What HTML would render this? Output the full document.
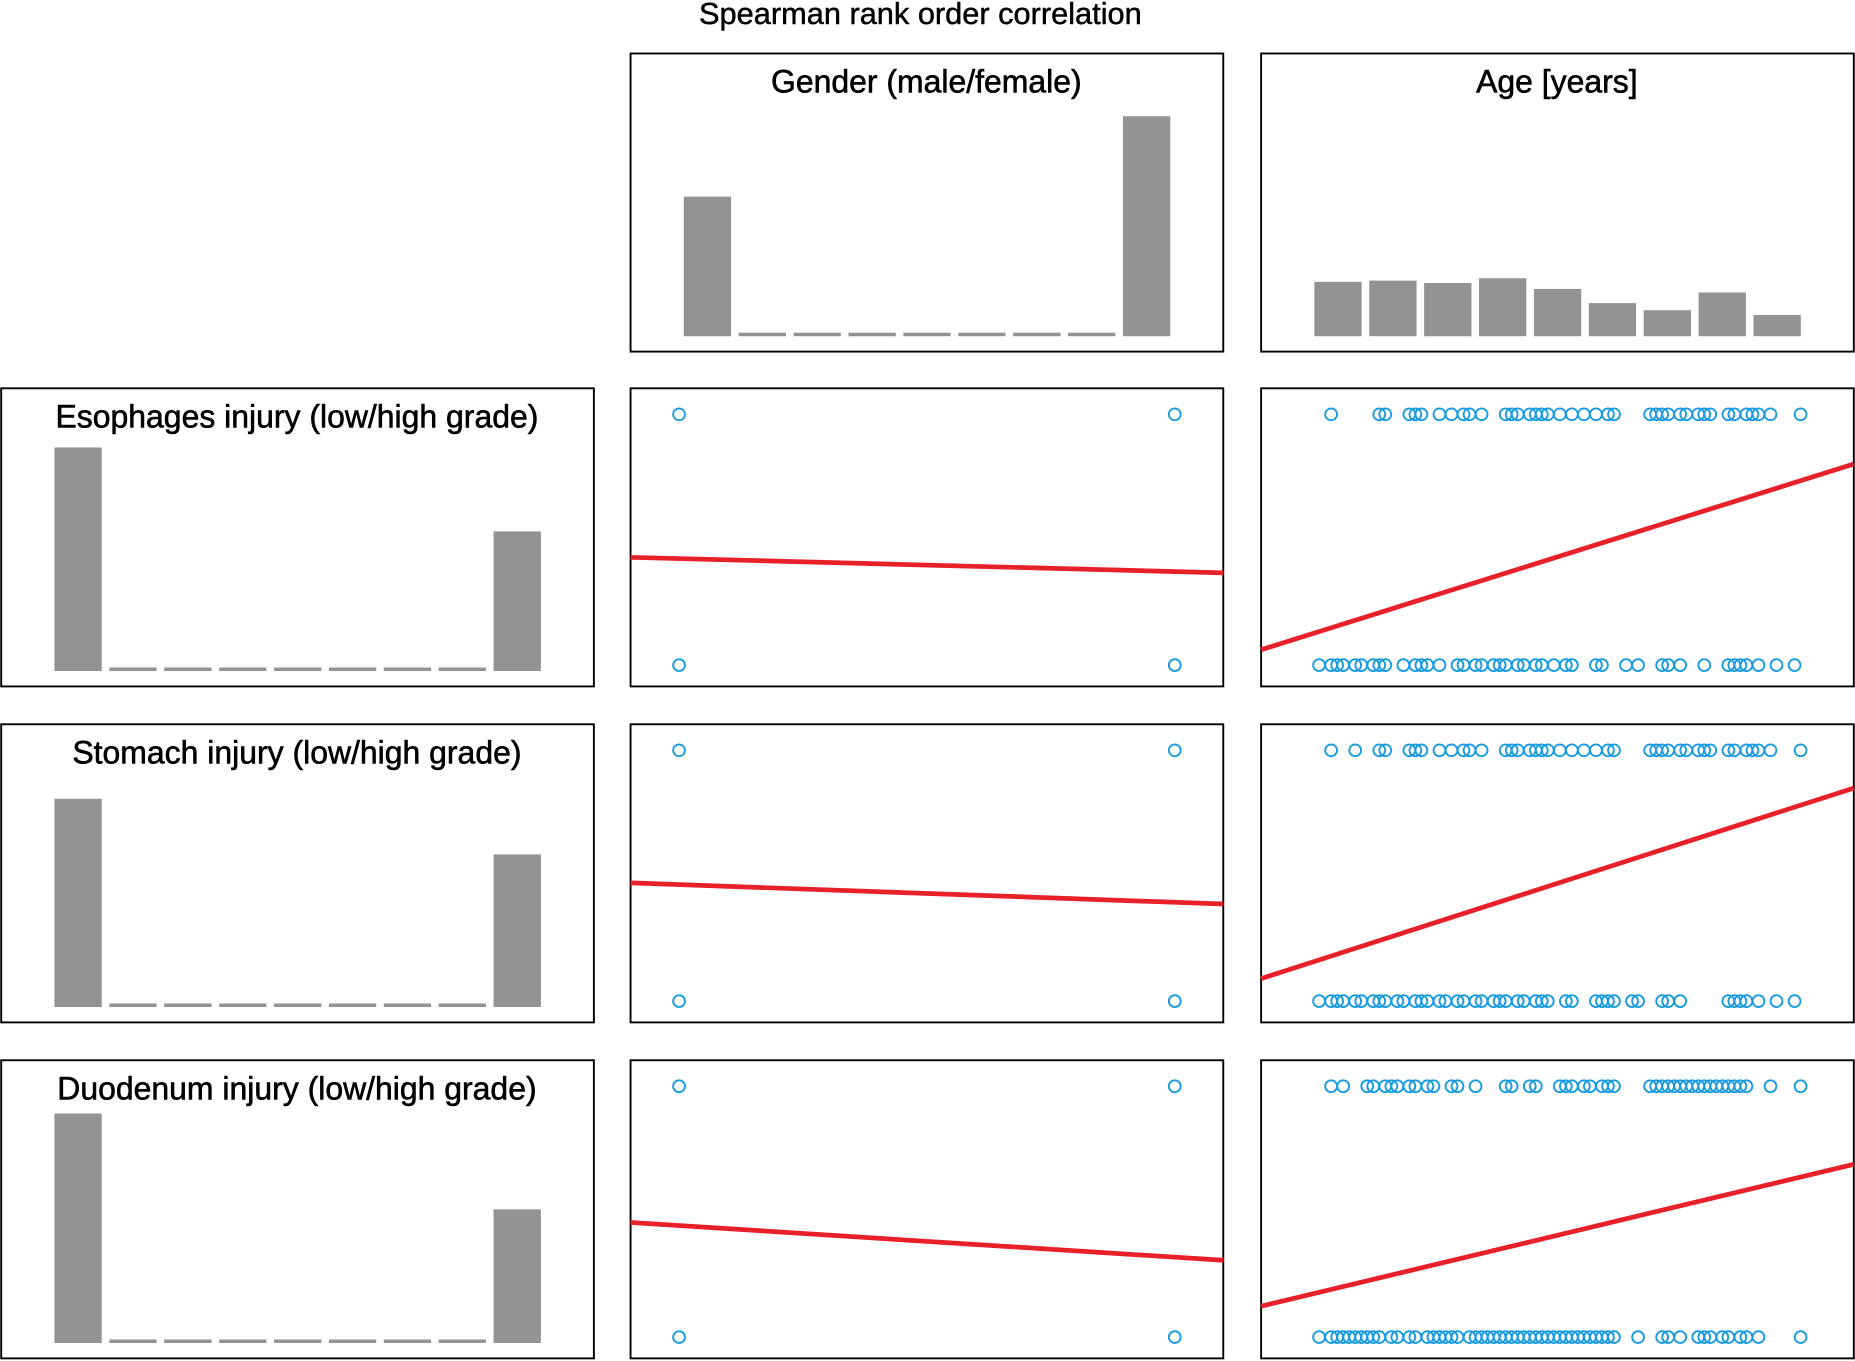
<!DOCTYPE html>
<html><head><meta charset="utf-8"><style>
html,body{margin:0;padding:0;background:#fff;}
svg{display:block;font-family:"Liberation Sans","DejaVu Sans",sans-serif;}
</style></head><body>
<svg id="fig" width="1855" height="1361" viewBox="0 0 1568 1150" xmlns="http://www.w3.org/2000/svg">
<text x="778" y="20" text-anchor="middle" font-size="26" stroke="#000" stroke-width="0.4">Spearman rank order correlation</text>
</svg>
<script>
// Histogram values (bar heights, arbitrary count units)
const genderHist=[118,3,3,3,3,3,3,3,186];
const ageHist=[46,47,45,49,40,28,22,37,18];
const esoHist=[189,3,3,3,3,3,3,3,118];
const stoHist=[176,3,3,3,3,3,3,3,129];
const duoHist=[194,3,3,3,3,3,3,3,113];
// Gender scatter: 0=male 1=female
const genderX=[0,1];
// Regression lines (grade value 0..1 at x start/end)
const genderLineEso=[0.433,0.381];
const genderLineSto=[0.468,0.397];
const genderLineDuo=[0.456,0.329];
const ageLineEso=[0.123,0.746];
const ageLineSto=[0.147,0.786];
const ageLineDuo=[0.175,0.651];
// Age scatter points (years) by grade
const esoHigh=[17,25,26,30,31,32,35,37,39,40,42,46,47,48,50,51,52,53,55,57,59,61,63,64,70,71,72,73,75,76,78,79,80,83,84,86,87,88,90,95];
const esoLow=[15,17,18,19,21,22,24,25,26,29,31,32,33,35,38,39,41,42,44,45,46,48,49,51,52,54,56,57,61,62,66,68,72,73,75,79,83,84,85,86,88,91,94];
const stoHigh=[17,21,25,26,30,31,32,35,37,39,40,42,46,47,48,50,51,52,53,55,57,59,61,63,64,70,71,72,73,75,76,78,79,80,83,84,86,87,88,90,95];
const stoLow=[15,17,18,19,21,22,24,25,26,28,29,31,32,33,35,36,38,39,41,42,44,45,46,48,49,51,52,53,56,57,61,62,63,64,67,68,72,73,75,83,84,85,86,88,91,94];
const duoHigh=[17,19,23,24,26,27,28,30,31,33,34,37,38,41,46,47,50,51,55,56,57,59,60,62,63,64,70,71,72,73,74,75,76,77,78,79,80,81,82,83,84,85,86,90,95];
const duoLow=[15,17,18,19,20,21,22,23,24,25,27,28,30,31,33,34,35,36,37,38,40,41,42,43,44,45,46,47,48,49,50,51,52,53,54,55,56,57,58,59,60,61,62,63,64,68,72,73,75,78,79,80,82,83,85,86,88,95];

const svg=document.getElementById('fig');
const NS='http://www.w3.org/2000/svg';
function mk(tag,attrs){const e=document.createElementNS(NS,tag);for(const k in attrs)e.setAttribute(k,attrs[k]);svg.appendChild(e);return e;}

function panel(x,y,name){
  const r=mk('rect',{x:x,y:y,width:501,height:252,fill:'none',stroke:'#000','stroke-width':1.6});
  
  
}
function hist(px,py,vals,title,name){
  panel(px,py,name+'-panel');
  const t=mk('text',{x:px+250,y:py+33,'text-anchor':'middle','font-size':27,stroke:'#000','stroke-width':0.5});
  t.textContent=title;
  
  
  const x0=px+45, base=py+239, step=46.4, w=40;
  vals.forEach((v,i)=>{
    const b=mk('rect',{x:x0+i*step,y:base-v,width:w,height:v,fill:'#939393'});
    
    
  });
}
function yGrade(py,g){return py+234-g*212;}
function circ(cx,cy,name){
  const c=mk('circle',{cx:cx,cy:cy,r:5,fill:'none',stroke:'#1a9be0','stroke-width':1.6});
  
  
}
function line(x1,y1,x2,y2,name){
  const l=mk('line',{x1:x1,y1:y1,x2:x2,y2:y2,stroke:'#e8202a','stroke-width':4});
  
  
}
function genderScatter(py,lineVals,name){
  const px=533;
  panel(px,py,name+'-panel');
  const gx=v=>574+v*419;
  genderX.forEach(v=>{circ(gx(v),yGrade(py,1),name+'-point-high');circ(gx(v),yGrade(py,0),name+'-point-low');});
  const ly=v=>py+252-v*252;
  line(px,ly(lineVals[0]),px+501,ly(lineVals[1]),name+'-regression-line');
}
function ageScatter(py,high,low,lineVals,name){
  const px=1066;
  panel(px,py,name+'-panel');
  const ax=a=>1115+(a-15)*5.0875;
  high.forEach(a=>circ(ax(a),yGrade(py,1),name+'-point-high'));
  low.forEach(a=>circ(ax(a),yGrade(py,0),name+'-point-low'));
  const ly=v=>py+252-v*252;
  line(px,ly(lineVals[0]),px+501,ly(lineVals[1]),name+'-regression-line');
}
hist(533,45,genderHist,'Gender (male/female)','gender-histogram');
hist(1066,45,ageHist,'Age [years]','age-histogram');
hist(1,328,esoHist,'Esophages injury (low/high grade)','esophagus-histogram');
hist(1,612,stoHist,'Stomach injury (low/high grade)','stomach-histogram');
hist(1,896,duoHist,'Duodenum injury (low/high grade)','duodenum-histogram');
genderScatter(328,genderLineEso,'gender-esophagus-scatter');
genderScatter(612,genderLineSto,'gender-stomach-scatter');
genderScatter(896,genderLineDuo,'gender-duodenum-scatter');
ageScatter(328,esoHigh,esoLow,ageLineEso,'age-esophagus-scatter');
ageScatter(612,stoHigh,stoLow,ageLineSto,'age-stomach-scatter');
ageScatter(896,duoHigh,duoLow,ageLineDuo,'age-duodenum-scatter');
</script>
</body></html>
